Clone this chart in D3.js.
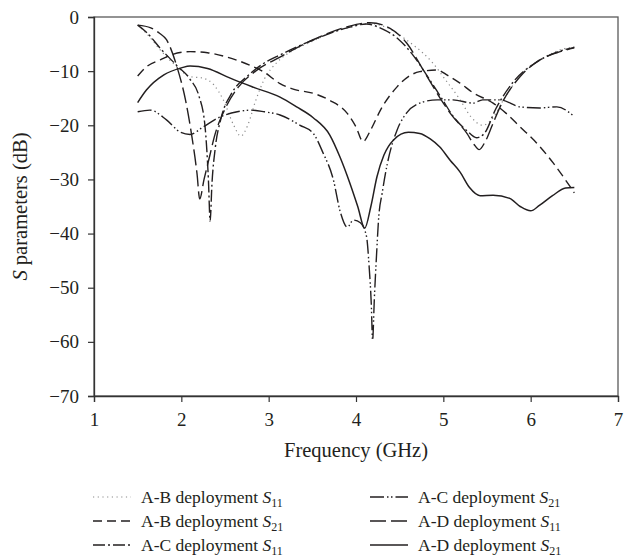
<!DOCTYPE html>
<html>
<head>
<meta charset="utf-8">
<script src="https://cdn.jsdelivr.net/npm/d3@7"></script>
<style>
  body { margin: 0; background: #fff; }
  text { font-family: "Liberation Serif", "DejaVu Serif", serif; fill: #231f20; }
</style>
</head>
<body>
<div id="chart"></div>
<script>
// frequency (GHz) / S parameter (dB) pairs
var xTicks = [1, 2, 3, 4, 5, 6, 7];
var yTicks = [0, -10, -20, -30, -40, -50, -60, -70];

var abS11 = [[1.5,-1.5],[1.6,-3],[1.76,-6.1],[1.95,-9.2],[2.1,-11],[2.25,-11.3],[2.37,-12.5],[2.48,-15.3],[2.6,-20],[2.68,-22],[2.76,-20],[2.85,-15.5],[2.95,-11.5],[3.1,-8.3],[3.3,-6],[3.5,-4.5],[3.7,-3],[3.9,-2],[4.15,-1.2],[4.4,-2.3],[4.6,-4.5],[4.77,-6.7],[4.88,-8.5],[5.02,-11.5],[5.18,-15],[5.32,-18.5],[5.45,-20],[5.55,-19],[5.7,-15],[5.9,-10.5],[6.15,-7.5],[6.35,-6],[6.5,-5.5]];
var abS21 = [[1.5,-10.9],[1.6,-9.2],[1.76,-7.9],[1.9,-6.9],[2.1,-6.4],[2.3,-6.6],[2.5,-7.3],[2.64,-8],[2.8,-9],[2.94,-10.1],[3.13,-12.3],[3.3,-13.4],[3.51,-14.1],[3.7,-15.4],[3.9,-17.8],[4.0,-20.3],[4.08,-23],[4.17,-20.8],[4.28,-17.2],[4.47,-12.9],[4.6,-11],[4.73,-10.1],[4.93,-9.8],[5.05,-10.8],[5.19,-12.2],[5.34,-14],[5.57,-15.9],[5.72,-17.8],[5.88,-20.3],[6.07,-23.3],[6.26,-27],[6.45,-31.3],[6.5,-32.5]];
var acS11 = [[1.5,-1.5],[1.6,-2.8],[1.76,-5.8],[1.95,-9],[2.1,-11.5],[2.2,-14.5],[2.27,-20],[2.31,-30],[2.33,-37.7],[2.35,-31],[2.39,-24],[2.45,-19],[2.58,-14],[2.75,-11],[2.95,-8.5],[3.13,-7],[3.5,-4.3],[3.9,-2],[4.12,-1.3],[4.3,-2.2],[4.48,-4],[4.65,-7],[4.82,-11],[4.98,-15],[5.12,-18.5],[5.27,-21],[5.38,-22.3],[5.47,-21.5],[5.6,-17],[5.8,-12],[6.05,-8.5],[6.3,-6.5],[6.5,-5.6]];
var acS21 = [[1.5,-17.5],[1.64,-17.2],[1.83,-19],[1.99,-21.3],[2.1,-21.7],[2.25,-20.3],[2.44,-18.5],[2.64,-17.5],[2.8,-17.2],[2.95,-17.5],[3.13,-18.1],[3.36,-20],[3.51,-21.5],[3.62,-25],[3.74,-30],[3.82,-36],[3.9,-38.8],[3.97,-37.5],[4.05,-38],[4.12,-40.5],[4.15,-46],[4.175,-53],[4.19,-59.7],[4.21,-52],[4.235,-44],[4.26,-37],[4.3,-32.5],[4.36,-27],[4.47,-20.9],[4.58,-17.7],[4.73,-15.9],[4.93,-15.3],[5.11,-15.3],[5.34,-15.9],[5.45,-15.3],[5.65,-15.3],[5.88,-16.6],[6.1,-16.8],[6.3,-16.6],[6.5,-18.4]];
var adS11 = [[1.5,-1.5],[1.65,-2],[1.75,-3],[1.83,-4.2],[1.95,-9.2],[2.05,-15.5],[2.12,-22],[2.18,-29],[2.21,-33.6],[2.26,-30],[2.32,-26],[2.38,-22],[2.5,-17],[2.65,-13],[2.85,-10],[3.13,-7.4],[3.51,-4.2],[3.9,-1.8],[4.16,-1.05],[4.39,-2.1],[4.58,-4.8],[4.77,-9.8],[5.0,-15.9],[5.08,-17.8],[5.27,-21.5],[5.35,-23.5],[5.41,-24.5],[5.48,-23],[5.56,-20],[5.65,-16.6],[5.88,-11],[6.1,-8],[6.3,-6.6],[6.5,-5.7]];
var adS21 = [[1.5,-15.8],[1.6,-13.5],[1.8,-10.7],[2.0,-9.4],[2.1,-9.05],[2.3,-9.5],[2.56,-11.3],[2.83,-13],[3.13,-14.8],[3.32,-16.6],[3.51,-18.6],[3.7,-21.8],[3.82,-26],[3.93,-30.7],[4.02,-35],[4.1,-39],[4.17,-35],[4.24,-29.5],[4.32,-25.5],[4.43,-22.7],[4.6,-21.3],[4.73,-21.5],[4.85,-22.5],[4.96,-24],[5.08,-26.5],[5.19,-28.6],[5.3,-31.5],[5.42,-33],[5.57,-32.9],[5.76,-33.5],[5.88,-35],[6.0,-35.8],[6.1,-34.8],[6.25,-33],[6.4,-31.6],[6.5,-31.5]];

var seriesNames = ["A-B deployment", "A-B deployment", "A-C deployment", "A-C deployment", "A-D deployment", "A-D deployment"];
var seriesSubs = ["11", "21", "11", "21", "11", "21"];
var seriesData = [abS11, abS21, acS11, acS21, adS11, adS21];

// line looks, same order as the series
var dashes = ["1.2,3.5", "9,5", "12,3,2,3", "14,3,1.5,2.5,1.5,3", "16,5", null];
var strokes = ["#8a8a8a", "#231f20", "#231f20", "#231f20", "#231f20", "#231f20"];
var widths = [1.2, 1.4, 1.4, 1.4, 1.4, 1.5];

var WIDTH = 634, HEIGHT = 559;
var svg = d3.select("#chart").append("svg")
  .attr("width", WIDTH)
  .attr("height", HEIGHT);

var x = d3.scaleLinear().domain([1, 7]).range([94, 618]);
var y = d3.scaleLinear().domain([-70, 0]).range([396, 17]);

function minus(v) { return v < 0 ? "\u2212" + Math.abs(v) : "" + v; }

// frame
svg.append("rect")
  .attr("x", x(1)).attr("y", y(0))
  .attr("width", x(7) - x(1)).attr("height", y(-70) - y(0))
  .attr("fill", "none").attr("stroke", "#5a5a5a").attr("stroke-width", 1.3);

var yAxis = svg.append("g")
  .attr("transform", "translate(" + x(1) + ",0)")
  .call(d3.axisLeft(y).tickValues(yTicks).tickSize(6).tickPadding(9).tickFormat(minus));
var xAxis = svg.append("g")
  .attr("transform", "translate(0," + y(-70) + ")")
  .call(d3.axisBottom(x).tickValues(xTicks).tickSize(6).tickPadding(11).tickFormat(d3.format("d")));

[yAxis, xAxis].forEach(function(ax) {
  ax.attr("font-family", null);
  ax.select(".domain").attr("stroke", "#333").attr("stroke-width", 1.3);
  ax.selectAll(".tick line").attr("stroke", "#333").attr("stroke-width", 1.2);
  ax.selectAll("text").attr("font-size", 19).attr("fill", "#231f20")
    .style("font-family", '"Liberation Serif", "DejaVu Serif", serif');
});

// curves
var line = d3.line()
  .x(function(d) { return x(d[0]); })
  .y(function(d) { return y(d[1]); })
  .curve(d3.curveMonotoneX);

svg.append("g").selectAll("path")
  .data(seriesData)
  .enter().append("path")
  .attr("d", line)
  .attr("fill", "none")
  .attr("stroke", function(d, i) { return strokes[i]; })
  .attr("stroke-width", function(d, i) { return widths[i]; })
  .attr("stroke-dasharray", function(d, i) { return dashes[i]; });

// axis titles
svg.append("text")
  .attr("x", (x(1) + x(7)) / 2).attr("y", 457)
  .attr("text-anchor", "middle").attr("font-size", 20.5)
  .text("Frequency (GHz)");

var yt = svg.append("text")
  .attr("transform", "translate(27," + ((y(0) + y(-70)) / 2) + ") rotate(-90)")
  .attr("text-anchor", "middle").attr("font-size", 20.5);
yt.append("tspan").attr("font-style", "italic").text("S");
yt.append("tspan").text(" parameters (dB)");

// legend, two columns of three
var legend = svg.append("g");
seriesData.forEach(function(d, i) {
  var col = i < 3 ? 0 : 1, row = i % 3;
  var lx = col === 0 ? 93 : 370, ly = 497 + row * 24;
  legend.append("line")
    .attr("x1", lx).attr("x2", lx + 38)
    .attr("y1", ly).attr("y2", ly)
    .attr("stroke", strokes[i]).attr("stroke-width", widths[i])
    .attr("stroke-dasharray", dashes[i]);
  var t = legend.append("text")
    .attr("x", lx + 48).attr("y", ly + 6)
    .attr("font-size", 17.5);
  t.append("tspan").text(seriesNames[i] + " ");
  t.append("tspan").attr("font-style", "italic").text("S");
  t.append("tspan").attr("font-size", 12).attr("dy", 4).text(seriesSubs[i]);
});
</script>
</body>
</html>
